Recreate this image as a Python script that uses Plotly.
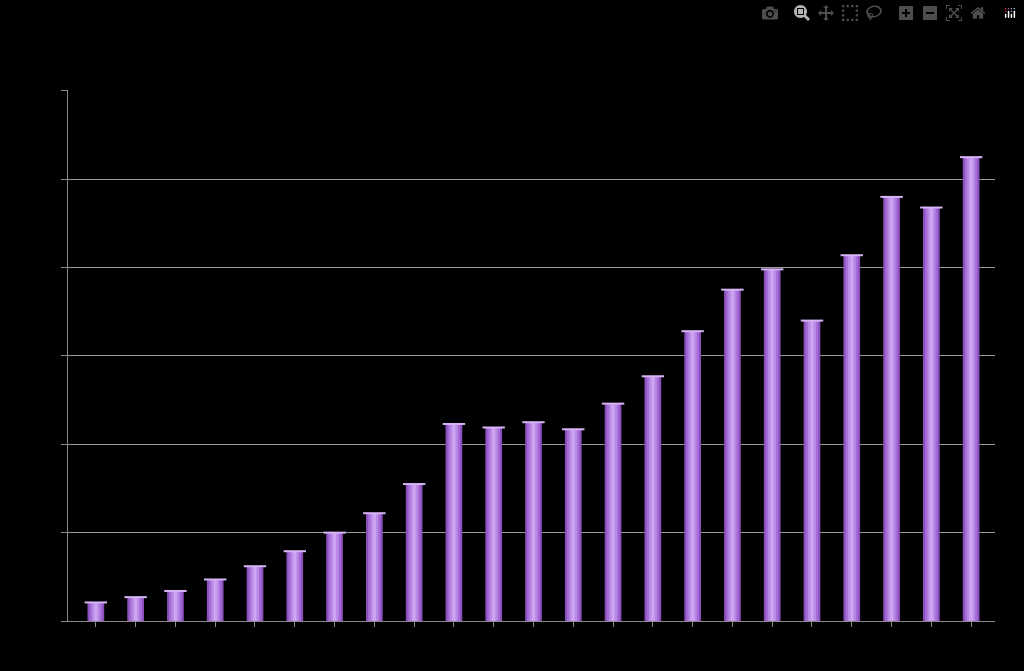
import plotly.graph_objects as go

categories = [str(i) for i in range(1, 24)]
values = [0.21, 0.27, 0.34, 0.47, 0.62, 0.79, 1.00, 1.22, 1.55, 2.23, 2.19, 2.25,
          2.17, 2.46, 2.77, 3.28, 3.75, 3.98, 3.40, 4.14, 4.80, 4.68, 5.25]

fig = go.Figure()
for w, c in [(0.42, "#8a4fba"), (0.32, "#a56bd6"), (0.2, "#b98ae6"), (0.08, "#cda5f0")]:
    fig.add_trace(go.Bar(x=categories, y=values, width=w, marker=dict(color=c, line=dict(width=0)),
                         hoverinfo="skip", showlegend=False))
fig.add_trace(go.Scatter(x=categories, y=values, mode="markers",
                         marker=dict(symbol="line-ew", size=16, line=dict(color="#d6b4f5", width=2)),
                         showlegend=False, hoverinfo="skip"))
fig.update_layout(
    barmode="overlay", paper_bgcolor="black", plot_bgcolor="black",
    width=1024, height=671, margin=dict(l=68, r=29, t=90, b=50),
    xaxis=dict(showgrid=False, showticklabels=False, ticks="outside", tickcolor="#888",
               showline=True, linecolor="#888", range=[-0.7, 22.6]),
    yaxis=dict(range=[0, 6.01], dtick=1, showgrid=True, gridcolor="#999", showticklabels=False,
               ticks="outside", tickcolor="#888", ticklen=6, showline=True, linecolor="#888",
               zeroline=False),
)
fig.write_html("out.html")
with open("out.html", encoding="utf-8") as f:
    html = f.read()
html = html.replace("<body>", '<body style="margin:0;background:black;overflow:hidden">', 1)
with open("out.html", "w", encoding="utf-8") as f:
    f.write(html)
